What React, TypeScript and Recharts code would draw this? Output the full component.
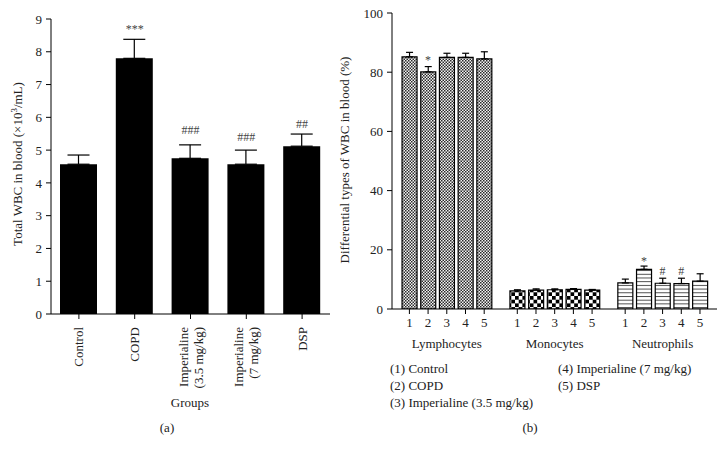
import React from "react";
import { ComposedChart, Bar, XAxis, YAxis, ErrorBar, Scatter, Cell } from "recharts";

const FONT = '"Liberation Serif", "DejaVu Serif", "Times New Roman", serif';

// ---------- Panel (a): total WBC ----------
const groupNames = ["Control", "COPD", "Imperialine (3.5 mg/kg)", "Imperialine (7 mg/kg)", "DSP"];
const totalWbc = [4.57, 7.8, 4.75, 4.57, 5.12];
const totalWbcErr = [0.28, 0.58, 0.41, 0.43, 0.37];
const totalWbcMarks = ["", "***", "###", "###", "##"];
const totalWbcMarkAt = [0, 8.58, 5.49, 5.27, 5.67];
const totalTicks = [0, 1, 2, 3, 4, 5, 6, 7, 8, 9];

// ---------- Panel (b): differential WBC ----------
const cellTypes = ["Lymphocytes", "Monocytes", "Neutrophils"];
const groupNumbers = ["1", "2", "3", "4", "5"];
const lymphocytes = [85.2, 80.1, 85.0, 85.0, 84.5];
const lymphocytesErr = [1.5, 1.8, 1.4, 1.4, 2.4];
const lymphocytesMarks = ["", "*", "", "", ""];
const lymphocytesMarkAt = [0, 82.8, 0, 0, 0];
const monocytes = [6.1, 6.4, 6.5, 6.6, 6.4];
const monocytesErr = [0.4, 0.4, 0.3, 0.3, 0.2];
const monocytesMarks = ["", "", "", "", ""];
const monocytesMarkAt = [0, 0, 0, 0, 0];
const neutrophils = [8.8, 13.4, 8.7, 8.6, 9.4];
const neutrophilsErr = [1.3, 1.1, 1.7, 1.8, 2.5];
const neutrophilsMarks = ["", "*", "#", "#", ""];
const neutrophilsMarkAt = [0, 14.9, 11.5, 11.5, 0];
const pctTicks = [0, 20, 40, 60, 80, 100];
const legendLeft = ["(1) Control", "(2) COPD", "(3) Imperialine (3.5 mg/kg)"];
const legendRight = ["(4) Imperialine (7 mg/kg)", "(5) DSP"];

const totalTable = groupNames.map((name, i) => ({
  name,
  value: totalWbc[i],
  err: [0, totalWbcErr[i]],
  mark: totalWbcMarks[i],
  markAt: totalWbcMarkAt[i],
}));

const GROUP_GAP = 0.77;
const seriesValues = [lymphocytes, monocytes, neutrophils];
const seriesErrs = [lymphocytesErr, monocytesErr, neutrophilsErr];
const seriesMarks = [lymphocytesMarks, monocytesMarks, neutrophilsMarks];
const seriesMarkAt = [lymphocytesMarkAt, monocytesMarkAt, neutrophilsMarkAt];
const patternIds = ["patLymph", "patMono", "patNeut"];

const diffTable = cellTypes.flatMap((type, gi) =>
  groupNumbers.map((num, j) => ({
    pos: gi * (groupNumbers.length + GROUP_GAP) + j,
    type,
    gi,
    j,
    num,
    value: seriesValues[gi][j],
    err: [0, seriesErrs[gi][j]],
    mark: seriesMarks[gi][j],
    markAt: seriesMarkAt[gi][j],
  }))
);

const GroupTick = (props: any) => {
  const { x, y, payload } = props;
  const label: string = String(payload.value);
  const k = label.indexOf(" (");
  const lines = k > 0 ? [label.slice(0, k), label.slice(k + 1)] : [label];
  const offs = lines.length === 1 ? [4.5] : [-3, 12];
  return (
    <g>
      {lines.map((ln, i) => (
        <text
          key={i}
          x={0}
          y={0}
          transform={`translate(${x + offs[i]},${y + 6}) rotate(-90)`}
          textAnchor="end"
          fontSize={13}
          fill="#222"
          fontFamily={FONT}
        >
          {ln}
        </text>
      ))}
    </g>
  );
};

const DiffTick = (props: any) => {
  const { x, y, payload } = props;
  const d = diffTable.find((e) => Math.abs(e.pos - payload.value) < 1e-6);
  if (!d) return null;
  const mid = d.j === Math.floor(groupNumbers.length / 2);
  return (
    <g>
      <text x={x} y={y + 11} textAnchor="middle" fontSize={13} fill="#222" fontFamily={FONT}>
        {d.num}
      </text>
      {mid && (
        <text x={x} y={y + 32} textAnchor="middle" fontSize={13} fill="#222" fontFamily={FONT}>
          {d.type}
        </text>
      )}
    </g>
  );
};

const MarkShape = (props: any) => {
  const { cx, cy, payload } = props;
  if (!payload || !payload.mark) return <g />;
  return (
    <text x={cx} y={cy} textAnchor="middle" fontSize={12} fill="#444" fontFamily={FONT}>
      {payload.mark}
    </text>
  );
};

const axisStyle = { stroke: "#000", strokeWidth: 1 };
const tickStyle = { fontSize: 13, fill: "#222", fontFamily: FONT };

export default function App() {
  return (
    <div
      style={{
        position: "absolute",
        left: 0,
        top: 0,
        width: 726,
        height: 454,
        background: "#fff",
        fontFamily: FONT,
        overflow: "hidden",
      }}
    >
      <div style={{ position: "absolute", left: 0, top: 0 }}>
        <ComposedChart
          width={340}
          height={454}
          data={totalTable}
          margin={{ top: 19, right: 10, bottom: 0, left: 0 }}
        >
          <XAxis
            dataKey="name"
            height={140}
            tick={<GroupTick />}
            tickSize={5}
            axisLine={axisStyle}
            tickLine={axisStyle}
            interval={0}
          />
          <YAxis
            width={51}
            domain={[0, 9]}
            ticks={totalTicks}
            tickSize={5}
            tickMargin={4}
            axisLine={axisStyle}
            tickLine={axisStyle}
            tick={tickStyle}
            allowDataOverflow
          />
          <Bar dataKey="value" fill="#000" barSize={37} isAnimationActive={false}>
            <ErrorBar dataKey="err" direction="y" width={11} stroke="#000" strokeWidth={1.2} />
          </Bar>
          <Scatter dataKey="markAt" shape={<MarkShape />} isAnimationActive={false} />
        </ComposedChart>
      </div>

      <div style={{ position: "absolute", left: 330, top: 0 }}>
        <ComposedChart
          width={396}
          height={454}
          data={diffTable}
          margin={{ top: 13, right: 9, bottom: 0, left: 0 }}
        >
          <defs>
            <pattern id="patLymph" width={3} height={3} patternUnits="userSpaceOnUse">
              <rect x={0} y={0} width={3} height={3} fill="#f4f4f4" />
              <rect x={0} y={0} width={1.5} height={1.5} fill="#2a2a2a" />
              <rect x={1.5} y={1.5} width={1.5} height={1.5} fill="#2a2a2a" />
            </pattern>
            <pattern id="patMono" width={7.4} height={7.4} patternUnits="userSpaceOnUse">
              <rect x={0} y={0} width={7.4} height={7.4} fill="#fff" />
              <rect x={0} y={0} width={3.7} height={3.7} fill="#000" />
              <rect x={3.7} y={3.7} width={3.7} height={3.7} fill="#000" />
            </pattern>
            <pattern id="patNeut" width={6} height={3.7} patternUnits="userSpaceOnUse">
              <rect x={0} y={0} width={6} height={3.7} fill="#fff" />
              <line x1={0} y1={0.5} x2={6} y2={0.5} stroke="#333" strokeWidth={0.9} />
            </pattern>
          </defs>
          <XAxis
            dataKey="pos"
            type="number"
            domain={[-0.93, 16.45]}
            ticks={diffTable.map((d) => d.pos)}
            interval={0}
            height={145}
            tick={<DiffTick />}
            tickSize={5}
            axisLine={axisStyle}
            tickLine={axisStyle}
            allowDataOverflow
          />
          <YAxis
            width={62}
            domain={[0, 100]}
            ticks={pctTicks}
            tickSize={5}
            tickMargin={4}
            axisLine={axisStyle}
            tickLine={axisStyle}
            tick={tickStyle}
            allowDataOverflow
          />
          <Bar dataKey="value" barSize={15} stroke="#000" strokeWidth={1.2} isAnimationActive={false}>
            {diffTable.map((d, i) => (
              <Cell key={i} fill={`url(#${patternIds[d.gi]})`} />
            ))}
            <ErrorBar dataKey="err" direction="y" width={3.5} stroke="#000" strokeWidth={1.2} />
          </Bar>
          <Scatter dataKey="markAt" shape={<MarkShape />} isAnimationActive={false} />
        </ComposedChart>
      </div>

      <svg
        width={726}
        height={454}
        style={{ position: "absolute", left: 0, top: 0, pointerEvents: "none" }}
        fontFamily={FONT}
      >
        <text
          transform="translate(22,164) rotate(-90)"
          textAnchor="middle"
          fontSize={13}
          fill="#222"
        >
          Total WBC in blood (×10
          <tspan dy={-5} fontSize={9}>3</tspan>
          <tspan dy={5}>/mL)</tspan>
        </text>
        <text x={190} y={407} textAnchor="middle" fontSize={13} fill="#222">
          Groups
        </text>
        <text x={167} y={432} textAnchor="middle" fontSize={13} fill="#222">
          (a)
        </text>

        <text
          transform="translate(349,160) rotate(-90)"
          textAnchor="middle"
          fontSize={13}
          fill="#222"
        >
          Differential types of WBC in blood (%)
        </text>
        {legendLeft.map((t, i) => (
          <text key={t} x={390} y={373 + i * 17} fontSize={13} fill="#222">
            {t}
          </text>
        ))}
        {legendRight.map((t, i) => (
          <text key={t} x={558} y={373 + i * 17} fontSize={13} fill="#222">
            {t}
          </text>
        ))}
        <text x={530} y={432} textAnchor="middle" fontSize={13} fill="#222">
          (b)
        </text>
      </svg>
    </div>
  );
}
